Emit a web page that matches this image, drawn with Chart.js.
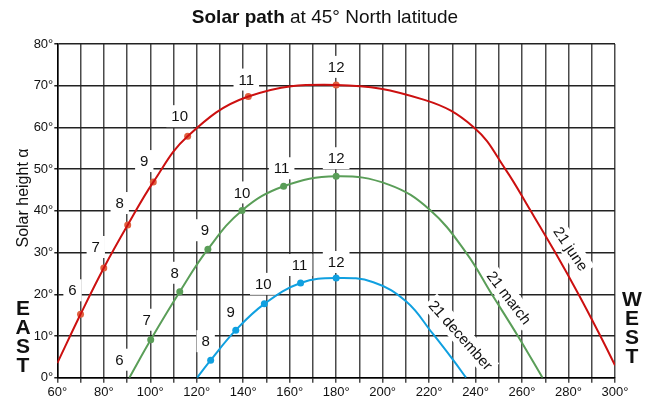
<!DOCTYPE html>
<html lang="en">
<head>
<meta charset="UTF-8">
<title>Solar path</title>
<script src="https://cdn.jsdelivr.net/npm/chart.js"></script>
<style>
  html, body { margin: 0; padding: 0; background: #fff; }
  #wrap { width: 650px; height: 403px; position: relative; }
</style>
</head>
<body>
<div id="wrap"><canvas id="solarChart"></canvas></div>
<script>
// Datos: acimut (°) y altura solar (°)
const juneAz  = [60, 70, 80, 90.3, 101.3, 116.1, 142.2, 180, 218, 239.3, 252.8, 263.7, 274.3, 284.3, 293.7, 300];
const juneAlt = [3.5, 15.2, 26.3, 36.6, 46.9, 57.9, 67.4, 70.2, 66.6, 60, 50, 40, 30, 20, 10, 3.0];

const marchAz  = [91, 100.2, 112.7, 124.8, 139.5, 157.4, 180, 202.6, 220.4, 235.9, 247, 258.2, 268.8];
const marchAlt = [0, 9.1, 20.6, 30.8, 40.1, 45.9, 48.3, 46.3, 40.2, 30, 20, 10, 0];

const decAz  = [120.2, 126, 136.8, 149.1, 164.7, 180, 196, 210.3, 221.5, 230.4, 235.9];
const decAlt = [0, 4.2, 11.4, 17.7, 22.7, 23.9, 22.9, 18.2, 10.6, 4.2, 0];

// Horas marcadas (mañana) sobre cada curva
const juneHours   = [6, 7, 8, 9, 10, 11, 12];
const juneHourAz  = [70, 80, 90.3, 101.3, 116.1, 142.2, 180];
const juneHourAlt = [15.2, 26.3, 36.6, 46.9, 57.9, 67.4, 70.2];

const marchHours   = [6, 7, 8, 9, 10, 11, 12];
const marchHourAz  = [91, 100.2, 112.7, 124.8, 139.5, 157.4, 180];
const marchHourAlt = [0, 9.1, 20.6, 30.8, 40.1, 45.9, 48.3];

const decHours   = [8, 9, 10, 11, 12];
const decHourAz  = [126, 136.8, 149.1, 164.7, 180];
const decHourAlt = [4.2, 11.4, 17.7, 22.7, 23.9];

// Etiquetas de los ejes
const xTickValues = [60, 80, 100, 120, 140, 160, 180, 200, 220, 240, 260, 280, 300];
const yTickValues = [0, 10, 20, 30, 40, 50, 60, 70, 80];

const toPoints = (xs, ys) => xs.map((x, i) => ({ x: x, y: ys[i] }));

const FONT = "'Liberation Sans', Arial, Helvetica, sans-serif";
Chart.defaults.font.family = FONT;
Chart.defaults.color = '#111';

// Plugin para las horas y los nombres de las curvas (con fondo blanco que corta la rejilla)
const labelsPlugin = {
  id: 'labelsPlugin',
  beforeDatasetsDraw(chart) {
    const ctx = chart.ctx;
    const xs = chart.scales.x, ys = chart.scales.y;
    ctx.save();
    ctx.textAlign = 'center';
    ctx.textBaseline = 'middle';
    ctx.font = '15px ' + FONT;
    chart.data.datasets.forEach((ds, i) => {
      if (!ds.hours) return;
      const meta = chart.getDatasetMeta(i);
      ds.hours.forEach((h, j) => {
        const p = meta.data[j];
        const off = ds.offsets[j];
        const cx = p.x + off[0], cy = p.y + off[1];
        const w = ctx.measureText(String(h)).width + 10;
        ctx.fillStyle = '#fff';
        ctx.fillRect(cx - w / 2, cy - 11, w, 22);
        ctx.fillStyle = '#111';
        ctx.fillText(String(h), cx, cy + 1);
      });
    });
    // nombres de las curvas, girados
    chart.options.plugins.labelsPlugin.curves.forEach(c => {
      const cx = xs.getPixelForValue(c.x), cy = ys.getPixelForValue(c.y);
      ctx.save();
      ctx.translate(cx, cy);
      ctx.rotate(c.angle * Math.PI / 180);
      const w = ctx.measureText(c.text).width + 6;
      ctx.fillStyle = '#fff';
      ctx.fillRect(-w / 2, -10, w, 20);
      ctx.fillStyle = '#111';
      ctx.fillText(c.text, 0, 1);
      ctx.restore();
    });
    ctx.restore();
  },
  afterDraw(chart) {
    const ctx = chart.ctx;
    ctx.save();
    ctx.fillStyle = '#111';
    ctx.textBaseline = 'middle';
    // título: parte en negrita y parte normal
    const t1 = 'Solar path', t2 = ' at 45° North latitude';
    ctx.font = 'bold 19px ' + FONT;
    const w1 = ctx.measureText(t1).width;
    ctx.font = '19px ' + FONT;
    const w2 = ctx.measureText(t2).width;
    let x0 = 325 - (w1 + w2) / 2;
    ctx.textAlign = 'left';
    ctx.font = 'bold 19px ' + FONT;
    ctx.fillText(t1, x0, 18);
    ctx.font = '19px ' + FONT;
    ctx.fillText(t2, x0 + w1, 18);
    // título del eje y
    ctx.save();
    ctx.translate(24, 198);
    ctx.rotate(-Math.PI / 2);
    ctx.textAlign = 'center';
    ctx.font = '16px ' + FONT;
    ctx.fillText('Solar height α', 0, 0);
    ctx.restore();
    // EAST / WEST en vertical
    ctx.textAlign = 'center';
    ctx.font = 'bold 21px ' + FONT;
    'EAST'.split('').forEach((ch, k) => ctx.fillText(ch, 23, 309 + k * 19));
    'WEST'.split('').forEach((ch, k) => ctx.fillText(ch, 632, 300 + k * 19));
    ctx.restore();
  }
};

const ctx = document.getElementById('solarChart').getContext('2d');
const chart = new Chart(ctx, {
  type: 'line',
  data: {
    datasets: [
      {
        label: '21 june',
        data: toPoints(juneAz, juneAlt),
        borderColor: '#cc1010',
        borderWidth: 2,
        pointRadius: 0,
        tension: 0.4
      },
      {
        label: '21 march',
        data: toPoints(marchAz, marchAlt),
        borderColor: '#5a9e58',
        borderWidth: 2,
        pointRadius: 0,
        tension: 0.4
      },
      {
        label: '21 december',
        data: toPoints(decAz, decAlt),
        borderColor: '#10a0e0',
        borderWidth: 2,
        pointRadius: 0,
        tension: 0.4
      },
      {
        label: 'june hours',
        data: toPoints(juneHourAz, juneHourAlt),
        hours: juneHours,
        offsets: [[-8, -24], [-8, -21], [-8, -22], [-9, -21], [-8, -20], [-2, -17], [0, -18]],
        showLine: false,
        pointRadius: 3.5,
        pointBorderWidth: 0,
        pointBackgroundColor: '#e0603f'
      },
      {
        label: 'march hours',
        data: toPoints(marchHourAz, marchHourAlt),
        hours: marchHours,
        offsets: [[-10, -18], [-4, -20], [-5, -19], [-3, -19], [0, -18], [-2, -18], [0, -18]],
        showLine: false,
        pointRadius: [0, 3.5, 3.5, 3.5, 3.5, 3.5, 3.5],
        pointBorderWidth: 0,
        pointBackgroundColor: '#5a9e58'
      },
      {
        label: 'december hours',
        data: toPoints(decHourAz, decHourAlt),
        hours: decHours,
        offsets: [[-5, -19], [-5, -18], [-1, -20], [-1, -18], [0, -16]],
        showLine: false,
        pointRadius: 3.5,
        pointBorderWidth: 0,
        pointBackgroundColor: '#10a0e0'
      }
    ]
  },
  options: {
    responsive: true,
    maintainAspectRatio: false,
    animation: false,
    layout: { padding: { top: 44, right: 35, left: 0, bottom: 0 } },
    plugins: {
      legend: { display: false },
      tooltip: { enabled: false },
      labelsPlugin: {
        curves: [
          { text: '21 june', x: 281.0, y: 30.9, angle: 55.9 },
          { text: '21 march', x: 254.4, y: 19.2, angle: 52.4 },
          { text: '21 december', x: 233.6, y: 10.2, angle: 48.3 }
        ]
      }
    },
    scales: {
      x: {
        type: 'linear',
        min: 60,
        max: 300,
        afterFit: s => { s.height = 25.3; },
        ticks: {
          stepSize: 10,
          padding: 2,
          maxRotation: 0,
          autoSkip: false,
          font: { size: 13 },
          callback: v => xTickValues.includes(v) ? v + '°' : ''
        },
        grid: { color: '#4a4a4a', lineWidth: 1.5, tickLength: 5 },
        border: { color: '#000', width: 1.5 }
      },
      y: {
        min: 0,
        max: 80,
        afterFit: s => { s.width = 57.3; },
        ticks: {
          stepSize: 10,
          padding: 1,
          font: { size: 13 },
          callback: v => yTickValues.includes(v) ? v + '°' : ''
        },
        grid: { color: '#222', lineWidth: 1.5, tickLength: 3 },
        border: { color: '#000', width: 1.5 }
      }
    }
  },
  plugins: [labelsPlugin]
});
</script>
</body>
</html>
